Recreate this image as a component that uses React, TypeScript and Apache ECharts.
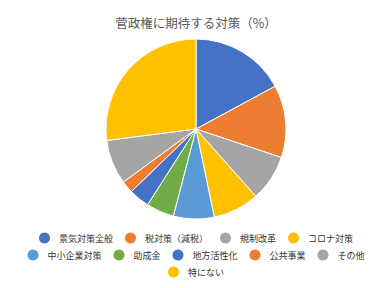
import React, { useEffect, useRef } from "react";
import * as echarts from "echarts";

const title = "菅政権に期待する対策（%）";
const categories = [
  "景気対策全般",
  "税対策（減税）",
  "規制改革",
  "コロナ対策",
  "中小企業対策",
  "助成金",
  "地方活性化",
  "公共事業",
  "その他",
  "特にない",
];
const values = [17.1, 13.0, 8.3, 8.3, 7.3, 5.0, 3.7, 2.2, 8.0, 27.0];
const colors = [
  "#4472C4",
  "#ED7D31",
  "#A5A5A5",
  "#FFC000",
  "#5B9BD5",
  "#70AD47",
  "#4472C4",
  "#ED7D31",
  "#A5A5A5",
  "#FFC000",
];
const legendRows = [categories.slice(0, 4), categories.slice(4, 9), categories.slice(9)];
const legendTops = [227.5, 244.5, 261.5];

export default function App() {
  const ref = useRef<HTMLDivElement>(null);
  useEffect(() => {
    if (!ref.current) return;
    const chart = echarts.init(ref.current, undefined, { renderer: "svg" });
    const font = "'Noto Sans CJK JP', 'Noto Sans', sans-serif";
    chart.setOption({
      animation: false,
      backgroundColor: "#ffffff",
      title: {
        text: title,
        left: "center",
        top: 11,
        textStyle: {
          fontFamily: font,
          fontSize: 12.5,
          fontWeight: "normal",
          color: "#595959",
        },
      },
      legend: legendRows.map((row, i) => ({
        data: row,
        left: "center",
        top: legendTops[i],
        orient: "horizontal",
        icon: "circle",
        itemWidth: 19,
        itemHeight: 11,
        itemGap: 12,
        itemStyle: { borderWidth: 0 },
        textStyle: { fontFamily: font, fontSize: 9, color: "#333333" },
      })),
      series: [
        {
          type: "pie",
          center: [196, 129],
          radius: 90,
          startAngle: 90,
          clockwise: true,
          label: { show: false },
          labelLine: { show: false },
          emphasis: { disabled: true },
          itemStyle: { borderColor: "#ffffff", borderWidth: 1 },
          data: categories.map((name, i) => ({
            name,
            value: values[i],
            itemStyle: { color: colors[i] },
          })),
        },
      ],
    });
    return () => chart.dispose();
  }, []);
  return (
    <div
      ref={ref}
      style={{ position: "fixed", left: 0, top: 0, width: 392, height: 288 }}
    />
  );
}
